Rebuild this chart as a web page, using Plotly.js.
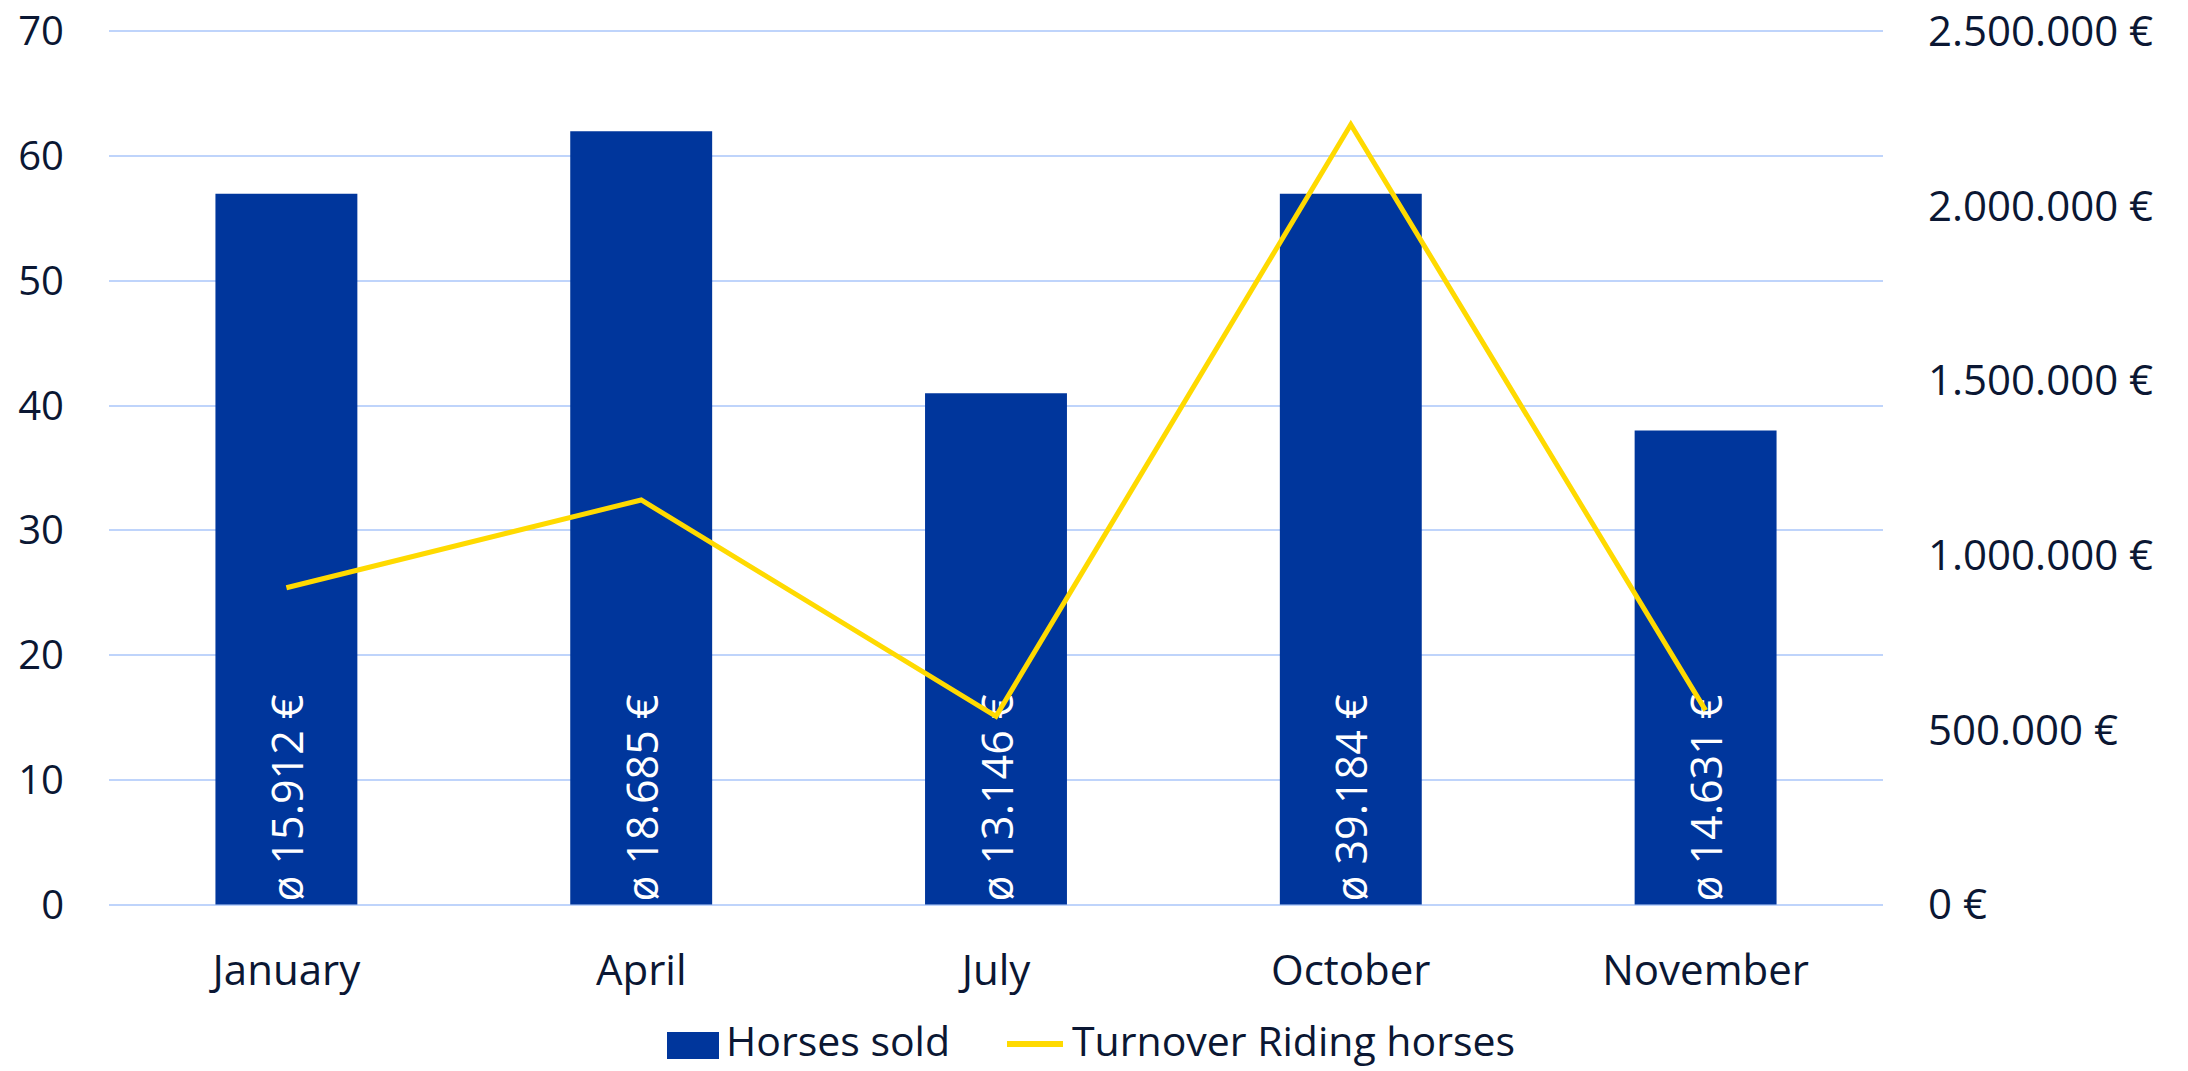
<!DOCTYPE html>
<html>
<head>
<meta charset="utf-8">
<script src="https://cdn.plot.ly/plotly-3.0.1.min.js"></script>
<style>html,body{margin:0;padding:0;background:#fff;}#chart{width:2188px;height:1071px;}</style>
</head>
<body>
<div id="chart"></div>
<script>
// Data
const months = ["January", "April", "July", "October", "November"];
const horsesSold = [57, 62, 41, 57, 38];
const avgPrice = [15912, 18685, 13146, 39184, 14631];
const turnover = [906984, 1158470, 538986, 2233488, 555978];
const seriesNames = ["Horses sold", "Turnover Riding horses"];

function fmt(n) {
  return String(n).replace(/\B(?=(\d{3})+(?!\d))/g, ".");
}
const barLabels = avgPrice.map(v => "ø " + fmt(v) + " €");

const FONT = "'Open Sans', 'Noto Sans', sans-serif";
const TXT = "#0B1733";
const BLUE = "#00369C";
const YELLOW = "#FFDA00";

const data = [
  {
    type: "bar",
    name: seriesNames[0],
    x: months,
    y: horsesSold,
    marker: {color: BLUE},
    text: barLabels,
    textposition: "inside",
    insidetextanchor: "start",
    textangle: -90,
    textfont: {family: FONT, size: 43, color: "#ffffff"},
    hoverinfo: "skip",
    showlegend: false
  },
  {
    type: "scatter",
    mode: "lines",
    name: seriesNames[1],
    x: months,
    y: turnover,
    yaxis: "y2",
    line: {color: YELLOW, width: 5},
    hoverinfo: "skip",
    showlegend: false
  }
];

// plot area geometry (pixels)
const M = {l: 109, r: 305, t: 29, b: 164};
const plotW = 2188 - M.l - M.r;
const plotH = 1071 - M.t - M.b;
const plotBottom = 1071 - M.b;
const px2x = p => (p - M.l) / plotW;
const py2y = p => (plotBottom - p) / plotH;

// custom legend (drawn in paper coordinates below the plot)
const shapes = [
  {type: "rect", xref: "paper", yref: "paper", x0: px2x(667), x1: px2x(719), y0: py2y(1059), y1: py2y(1032),
   fillcolor: BLUE, line: {width: 0}},
  {type: "line", xref: "paper", yref: "paper", x0: px2x(1007), x1: px2x(1063), y0: py2y(1044), y1: py2y(1044),
   line: {color: YELLOW, width: 6}}
];
const annotations = [
  {xref: "paper", yref: "paper", x: px2x(724), y: py2y(1040), xanchor: "left", yanchor: "middle",
   text: seriesNames[0], showarrow: false, font: {family: FONT, size: 41, color: TXT}},
  {xref: "paper", yref: "paper", x: px2x(1070), y: py2y(1040), xanchor: "left", yanchor: "middle",
   text: seriesNames[1], showarrow: false, font: {family: FONT, size: 41, color: TXT}}
];

const yMax = 70.2, yMin = -0.2;
const y2Scale = 2500000 / 70;

const layout = {
  width: 2188,
  height: 1071,
  paper_bgcolor: "#ffffff",
  plot_bgcolor: "#ffffff",
  separators: ",.",
  font: {family: FONT, size: 40, color: TXT},
  margin: {l: M.l, r: M.r, t: M.t, b: M.b, pad: 0},
  bargap: 0.6,
  showlegend: false,
  shapes: shapes,
  annotations: annotations,
  xaxis: {
    type: "category",
    showgrid: false,
    zeroline: false,
    showline: false,
    ticks: "",
    tickfont: {family: FONT, size: 42, color: TXT},
    ticklabelstandoff: 35
  },
  yaxis: {
    range: [yMin, yMax],
    dtick: 10,
    tick0: 0,
    showgrid: true,
    gridcolor: "#BFD4FB",
    gridwidth: 2,
    zeroline: false,
    showline: false,
    ticks: "",
    ticklabelstandoff: 44,
    ticklabeloverflow: "allow",
    tickfont: {family: FONT, size: 40, color: TXT}
  },
  yaxis2: {
    overlaying: "y",
    side: "right",
    range: [yMin * y2Scale, yMax * y2Scale],
    dtick: 500000,
    tick0: 0,
    tickformat: ",d",
    ticksuffix: " €",
    showgrid: false,
    zeroline: false,
    showline: false,
    ticks: "",
    ticklabelstandoff: 44,
    ticklabeloverflow: "allow",
    tickfont: {family: FONT, size: 42, color: TXT}
  }
};

Plotly.newPlot("chart", data, layout, {displayModeBar: false, staticPlot: true});
</script>
</body>
</html>
